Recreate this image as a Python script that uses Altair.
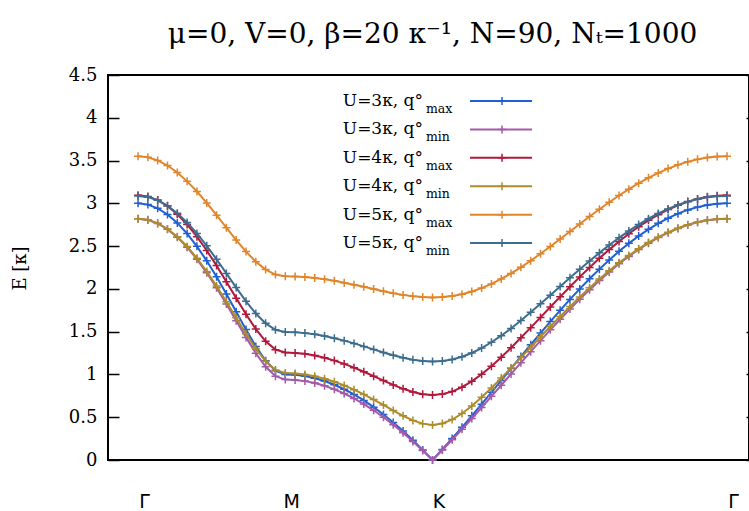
import altair as alt
import pandas as pd

# ---------------- data ----------------
k_index = list(range(61))          # path index: Γ=0, M=15, K=30, Γ=60
tick_pos = [0, 15, 30, 60]
tick_lab = ["Γ", "M", "K", "Γ"]
y_ticks = [0, 0.5, 1, 1.5, 2, 2.5, 3, 3.5, 4, 4.5]

main_labels = ["U=3κ, q°", "U=3κ, q°", "U=4κ, q°", "U=4κ, q°", "U=5κ, q°", "U=5κ, q°"]
sub_labels = ["max", "min", "max", "min", "max", "min"]
colors = ["#1f5fcf", "#a45aa8", "#b0183c", "#ad8c2c", "#e0852a", "#3d6d8e"]

E_u3_max = [3.000, 2.985, 2.942, 2.870, 2.771, 2.646, 2.497, 2.328, 2.141, 1.940, 1.732, 1.524, 1.328, 1.160, 1.043, 1.000,
            0.995, 0.981, 0.956, 0.923, 0.879, 0.827, 0.766, 0.696, 0.618, 0.532, 0.439, 0.338, 0.231, 0.118, 0.000,
            0.123, 0.251, 0.382, 0.516, 0.653, 0.791, 0.930, 1.070, 1.209, 1.347, 1.484, 1.618, 1.749, 1.877, 2.000,
            2.118, 2.231, 2.338, 2.439, 2.532, 2.618, 2.696, 2.766, 2.827, 2.879, 2.923, 2.956, 2.981, 2.995, 3.000]
E_u3_min = [2.820, 2.806, 2.765, 2.698, 2.605, 2.487, 2.347, 2.188, 2.013, 1.824, 1.628, 1.433, 1.248, 1.090, 0.980, 0.940,
            0.935, 0.922, 0.899, 0.868, 0.826, 0.777, 0.720, 0.654, 0.581, 0.500, 0.413, 0.318, 0.217, 0.111, 0.000,
            0.116, 0.236, 0.359, 0.485, 0.614, 0.744, 0.874, 1.006, 1.136, 1.266, 1.395, 1.521, 1.644, 1.764, 1.880,
            1.991, 2.097, 2.198, 2.293, 2.380, 2.461, 2.534, 2.600, 2.657, 2.706, 2.748, 2.779, 2.802, 2.815, 2.820]
E_u4_max = [3.095, 3.081, 3.038, 2.969, 2.873, 2.753, 2.610, 2.449, 2.272, 2.084, 1.892, 1.703, 1.530, 1.387, 1.290, 1.256,
            1.252, 1.241, 1.222, 1.195, 1.162, 1.123, 1.079, 1.031, 0.980, 0.928, 0.878, 0.832, 0.794, 0.769, 0.760,
            0.770, 0.800, 0.851, 0.919, 1.002, 1.097, 1.201, 1.312, 1.428, 1.547, 1.667, 1.788, 1.907, 2.025, 2.140,
            2.251, 2.357, 2.459, 2.554, 2.644, 2.726, 2.801, 2.868, 2.928, 2.978, 3.020, 3.052, 3.076, 3.090, 3.095]
E_u4_min = [2.820, 2.807, 2.766, 2.700, 2.609, 2.495, 2.358, 2.203, 2.033, 1.850, 1.662, 1.476, 1.301, 1.154, 1.053, 1.016,
            1.012, 1.000, 0.979, 0.951, 0.915, 0.872, 0.822, 0.766, 0.706, 0.643, 0.578, 0.517, 0.463, 0.425, 0.410,
            0.426, 0.472, 0.543, 0.631, 0.733, 0.842, 0.957, 1.076, 1.197, 1.318, 1.440, 1.560, 1.678, 1.793, 1.905,
            2.012, 2.115, 2.213, 2.305, 2.390, 2.469, 2.541, 2.605, 2.661, 2.709, 2.749, 2.780, 2.802, 2.816, 2.820]
E_u5_max = [3.551, 3.539, 3.502, 3.442, 3.360, 3.257, 3.138, 3.005, 2.862, 2.716, 2.571, 2.436, 2.318, 2.226, 2.167, 2.147,
            2.145, 2.138, 2.127, 2.112, 2.094, 2.072, 2.049, 2.024, 1.998, 1.973, 1.950, 1.930, 1.914, 1.904, 1.900,
            1.904, 1.917, 1.938, 1.969, 2.009, 2.058, 2.116, 2.181, 2.252, 2.329, 2.411, 2.496, 2.583, 2.671, 2.759,
            2.846, 2.931, 3.013, 3.092, 3.166, 3.235, 3.298, 3.356, 3.406, 3.450, 3.486, 3.514, 3.535, 3.547, 3.551]
E_u5_min = [3.087, 3.074, 3.036, 2.972, 2.885, 2.776, 2.648, 2.503, 2.346, 2.181, 2.015, 1.855, 1.712, 1.597, 1.521, 1.495,
            1.492, 1.483, 1.469, 1.449, 1.424, 1.395, 1.363, 1.328, 1.293, 1.257, 1.224, 1.195, 1.171, 1.156, 1.150,
            1.156, 1.175, 1.207, 1.251, 1.308, 1.376, 1.453, 1.538, 1.630, 1.726, 1.825, 1.926, 2.028, 2.130, 2.230,
            2.327, 2.421, 2.512, 2.597, 2.678, 2.752, 2.820, 2.881, 2.935, 2.981, 3.019, 3.049, 3.070, 3.083, 3.087]

series = [E_u3_max, E_u3_min, E_u4_max, E_u4_min, E_u5_max, E_u5_min]

# ---------------- scales / axes ----------------
xs = alt.Scale(domain=[-3.06, 62.24], nice=False, zero=False)
ys = alt.Scale(domain=[0, 4.5], nice=False, zero=False)

label_expr = " : ".join(
    f"datum.value == {p} ? '{l}'" for p, l in zip(tick_pos[:-1], tick_lab[:-1])
) + f" : '{tick_lab[-1]}'"

x_axis = alt.Axis(values=tick_pos, labelExpr=label_expr, title=None, ticks=False, domain=False,
                  grid=False, labelFont="DejaVu Sans", labelFontSize=19, labelColor="black",
                  labelPadding=32, labelOffset=6, labelFlush=False)
y_axis = alt.Axis(values=y_ticks, format="~g", offset=-11, tickSize=11, tickWidth=1.5, tickColor="black",
                  domain=False, grid=False, labelPadding=11, labelFont="DejaVu Serif", labelFontSize=18,
                  labelColor="black", labelFlush=False, title="E [κ]", titleFont="DejaVu Serif",
                  titleFontSize=18, titleFontWeight="normal", titleColor="black",
                  titleX=-90, titleY=193, titleAlign="center", titleBaseline="bottom")

plus = "M-1,0H1M0,-1V1"

layers = []
for vals, col in zip(series, colors):
    df = pd.DataFrame({"x": k_index, "E": vals})
    base = alt.Chart(df).encode(
        x=alt.X("x:Q", scale=xs, axis=x_axis),
        y=alt.Y("E:Q", scale=ys, axis=y_axis),
    )
    layers.append(base.mark_line(color=col, strokeWidth=2))
    layers.append(base.mark_point(shape=plus, size=64, filled=False, strokeWidth=1.5, color=col, opacity=1))

# ---------------- in-plot legend ----------------
row_E = [4.196 - 0.332 * i for i in range(len(colors))]
leg = pd.DataFrame({
    "main": main_labels, "sub": sub_labels, "color": colors, "E": row_E,
    "x": [29.03] * 6, "xl1": [33.82] * 6, "xl2": [40.14] * 6, "xm": [37.08] * 6,
})
lbase = alt.Chart(leg)
layers.append(lbase.mark_rule(strokeWidth=2).encode(
    x=alt.X("xl1:Q", scale=xs, axis=x_axis), x2="xl2:Q",
    y=alt.Y("E:Q", scale=ys, axis=y_axis), color=alt.Color("color:N", scale=None)))
layers.append(lbase.mark_point(shape=plus, size=64, filled=False, strokeWidth=1.5, opacity=1).encode(
    x=alt.X("xm:Q", scale=xs, axis=x_axis),
    y=alt.Y("E:Q", scale=ys, axis=y_axis), color=alt.Color("color:N", scale=None)))
layers.append(lbase.mark_text(align="right", baseline="alphabetic", dy=5, font="DejaVu Serif",
                              fontSize=17, color="black").encode(
    x=alt.X("x:Q", scale=xs, axis=x_axis), y=alt.Y("E:Q", scale=ys, axis=y_axis), text="main:N"))
layers.append(lbase.mark_text(align="left", baseline="alphabetic", dx=3, dy=12, font="DejaVu Serif",
                              fontSize=12.5, color="black").encode(
    x=alt.X("x:Q", scale=xs, axis=x_axis), y=alt.Y("E:Q", scale=ys, axis=y_axis), text="sub:N"))

main = alt.layer(*layers)

right_ticks = alt.Chart(pd.DataFrame({"E": y_ticks})).mark_point(opacity=0).encode(
    y=alt.Y("E:Q", scale=ys, axis=alt.Axis(orient="right", values=y_ticks, offset=-3, tickSize=3,
                                           tickWidth=1.5, tickColor="black", labels=False,
                                           domain=False, grid=False, title=None)))

chart = alt.layer(main, right_ticks).resolve_axis(y="independent").properties(
    width=641, height=385,
    padding={"left": 108, "top": 75, "right": 0, "bottom": 51},
    autosize=alt.AutoSizeParams(type="none"),
    title=alt.Title(text="μ=0, V=0, β=20 κ⁻¹, N=90, Nₜ=1000", font="DejaVu Serif", fontSize=28,
                    fontWeight="normal", anchor="middle", frame="group", baseline="alphabetic",
                    offset=31, dx=4, dy=36, color="black"),
).configure_view(stroke="black", strokeWidth=2)

chart.save("out.html", embed_options={"renderer": "svg", "actions": False})
